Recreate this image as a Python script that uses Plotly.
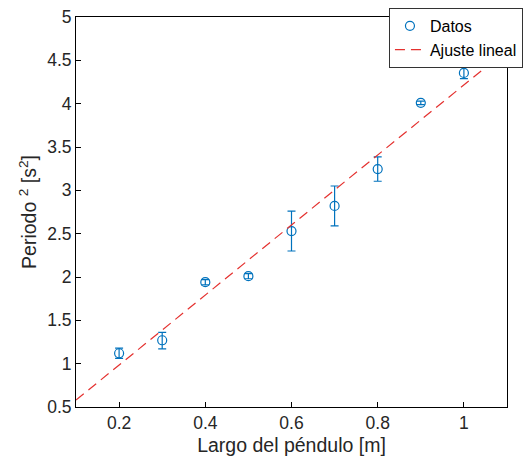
import plotly.graph_objects as go

largo = [0.2, 0.3, 0.4, 0.5, 0.6, 0.7, 0.8, 0.9, 1.0]
periodo2 = [1.12, 1.27, 1.94, 2.01, 2.53, 2.82, 3.245, 4.01, 4.355]
err_up = [0.06, 0.09, 0.03, 0.03, 0.23, 0.23, 0.14, 0.02, 0.065]
err_down = [0.06, 0.10, 0.03, 0.03, 0.23, 0.23, 0.14, 0.02, 0.065]

fit_slope = 4.04
fit_intercept = 0.176
fit_x = [0.1, 1.1]
fit_y = [fit_slope * x + fit_intercept for x in fit_x]

xtick_vals = [0.2, 0.4, 0.6, 0.8, 1.0]
xtick_text = ["0.2", "0.4", "0.6", "0.8", "1"]
ytick_vals = [0.5, 1, 1.5, 2, 2.5, 3, 3.5, 4, 4.5, 5]
ytick_text = ["0.5", "1", "1.5", "2", "2.5", "3", "3.5", "4", "4.5", "5"]

blue = "#0072BD"
red = "#E4312F"
font_family = "Liberation Sans, Arial, sans-serif"

fig = go.Figure()
fig.add_trace(go.Scatter(
    x=largo, y=periodo2, mode="markers", name="Datos",
    marker=dict(symbol="circle-open", size=9, color=blue, line=dict(width=1.2, color=blue)),
    error_y=dict(type="data", symmetric=False, array=err_up, arrayminus=err_down,
                 color=blue, thickness=1.2, width=4),
))
fig.add_trace(go.Scatter(
    x=fit_x, y=fit_y, mode="lines", name="Ajuste lineal",
    line=dict(color=red, width=1.2, dash="10px,6px"),
))

axis_common = dict(
    showline=True, linecolor="black", linewidth=1, mirror=True,
    ticks="inside", ticklen=5, tickcolor="black",
    showgrid=False, zeroline=False, automargin=False,
    tickfont=dict(family=font_family, size=17.5, color="#262626"),
)

fig.update_layout(
    width=524, height=467,
    margin=dict(l=76, r=17, t=17, b=60, autoexpand=False),
    paper_bgcolor="white", plot_bgcolor="white",
    font=dict(family=font_family, color="#262626"),
    xaxis=dict(range=[0.1, 1.1], tickvals=xtick_vals, ticktext=xtick_text,
               title=dict(text="Largo del péndulo [m]", font=dict(size=19.5), standoff=6),
               **axis_common),
    yaxis=dict(range=[0.5, 5], tickvals=ytick_vals, ticktext=ytick_text,
               title=dict(text="Periodo <sup>2</sup> [s<sup>2</sup>]", font=dict(size=19.5), standoff=5),
               **axis_common),
    legend=dict(xref="container", yref="container",
                x=0.998, xanchor="right", y=0.983, yanchor="top",
                bordercolor="#333333", borderwidth=1, bgcolor="white",
                font=dict(size=16, color="black"), tracegroupgap=0,
                itemwidth=30),
    showlegend=True,
)

fig.write_html("out.html", config={"displayModeBar": False},
               post_script="document.body.style.margin='0';document.body.style.padding='0';")
